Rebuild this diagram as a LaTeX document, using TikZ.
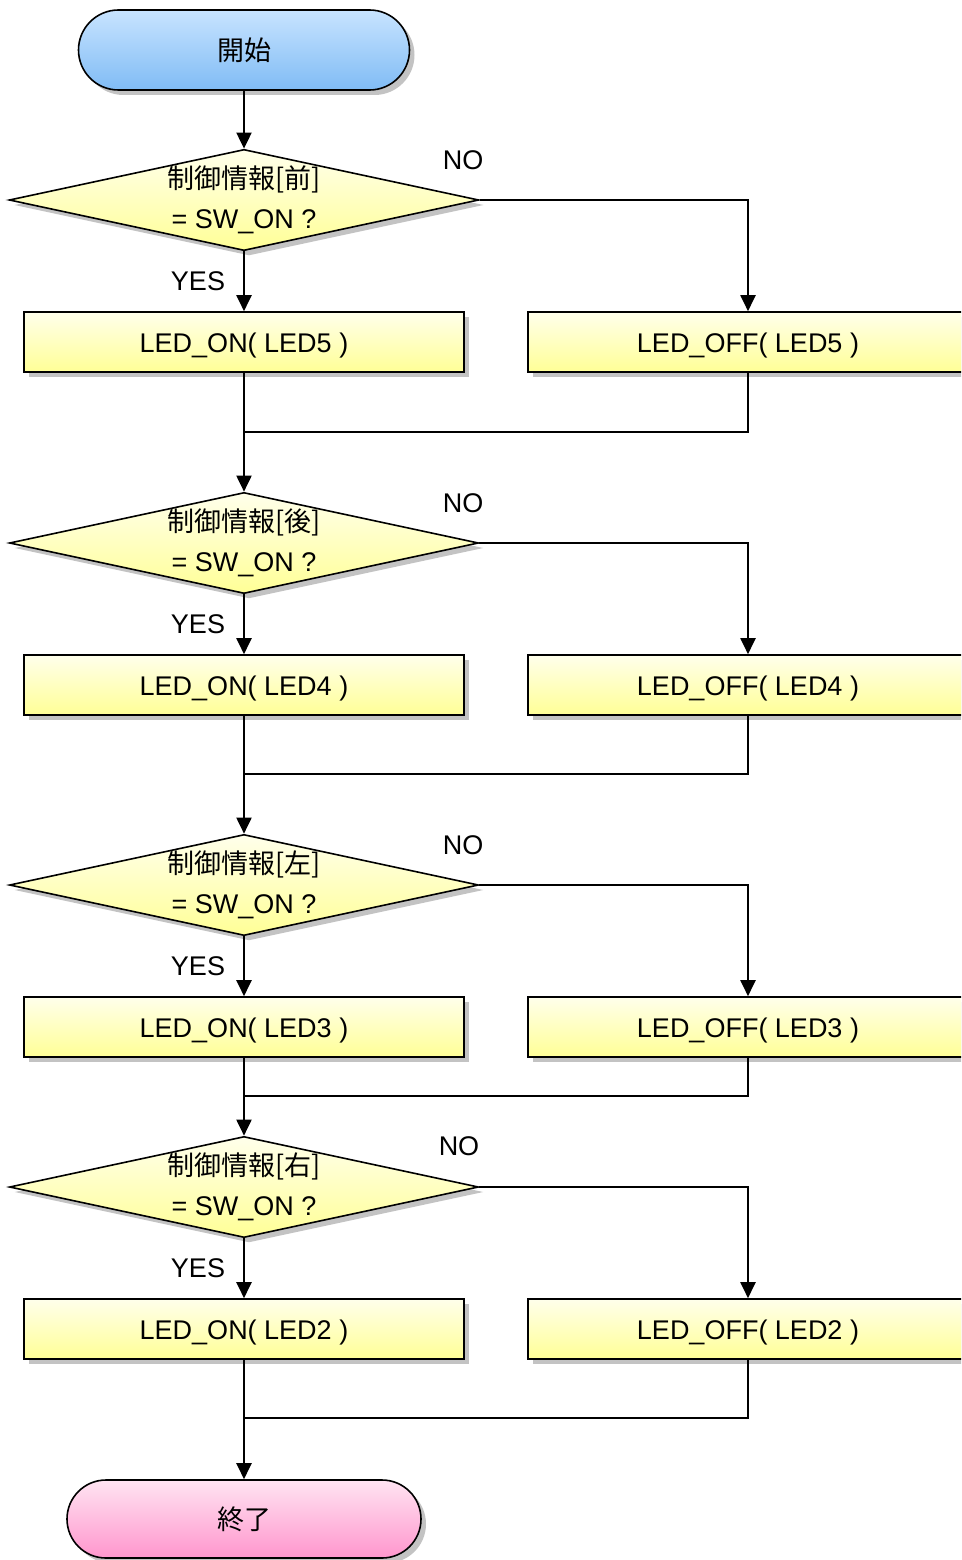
\documentclass[tikz,border=0pt]{standalone}
\usepackage{fontspec}
\setmainfont{Liberation Sans}
\newfontfamily\cjk{Noto Sans CJK JP}
\usetikzlibrary{shapes.geometric,arrows.meta,shadows}
\definecolor{stTop}{RGB}{200,228,255}
\definecolor{stBot}{RGB}{128,188,245}
\definecolor{yTop}{RGB}{255,255,235}
\definecolor{yBot}{RGB}{255,255,150}
\definecolor{enTop}{RGB}{255,228,242}
\definecolor{enBot}{RGB}{255,150,205}
\definecolor{shd}{RGB}{195,195,195}
\begin{document}
\begin{tikzpicture}[x=1pt,y=-1pt,
  font=\fontsize{27}{40}\selectfont,
  shad/.style={drop shadow={shadow xshift=5pt,shadow yshift=-5pt,fill=shd,opacity=1}},
  term/.style={draw,rectangle,line width=1.6pt,shad,inner sep=0pt},
  procbox/.style={draw,rectangle,line width=1.6pt,minimum width=440pt,minimum height=60pt,
    top color=yTop,bottom color=yBot,shad,inner sep=0pt,text height=21pt,text depth=0pt},
  decision/.style={draw,diamond,aspect=4.64,minimum width=464pt,minimum height=99pt,
    inner sep=0pt,line width=1.6pt,top color=yTop,bottom color=yBot,shad,align=center},
  arr/.style={line width=2pt,-{Triangle[length=16pt,width=15pt]}},
  ln/.style={line width=2pt},
  lbl/.style={inner sep=0pt}]
\clip (0,0) rectangle (961,1560);
\node[term,minimum width=331pt,minimum height=80pt,rounded corners=40pt,
  top color=stTop,bottom color=stBot] (start) at (244,50) {\cjk 開始};
\foreach \i/\dy/\by/\my/\k/\n/\nox/\noy in {
  1/200/342/432/前/5/463/160,
  2/543/685/774/後/4/463/503,
  3/885/1027/1096/左/3/463/845,
  4/1187/1329/1418/右/2/459/1146}{
  \node[decision] (d\i) at (244,\dy) {{\cjk 制御情報[\k]}\\= SW\_ON ?};
  \node[procbox] (on\i) at (244,\by) {LED\_ON( LED\n\ )};
  \node[procbox] (off\i) at (748,\by) {LED\_OFF( LED\n\ )};
  \coordinate (m\i) at (244,\my);
  \node[lbl] (no\i) at (\nox,\noy) {NO};
  \node[lbl] (yes\i) at (198,\dy+81) {YES};
  \draw[arr] (d\i.south) -- (on\i.north);
  \draw[arr] (d\i.east) -| (off\i.north);
  \draw[ln] (off\i.south) |- (m\i);
}
\node[term,minimum width=354pt,minimum height=78pt,rounded corners=39pt,
  top color=enTop,bottom color=enBot] (end) at (244,1519) {\cjk 終了};
\draw[arr] (start.south) -- (d1.north);
\draw[arr] (on1.south) -- (d2.north);
\draw[arr] (on2.south) -- (d3.north);
\draw[arr] (on3.south) -- (d4.north);
\draw[arr] (on4.south) -- (end.north);
\end{tikzpicture}
\end{document}
